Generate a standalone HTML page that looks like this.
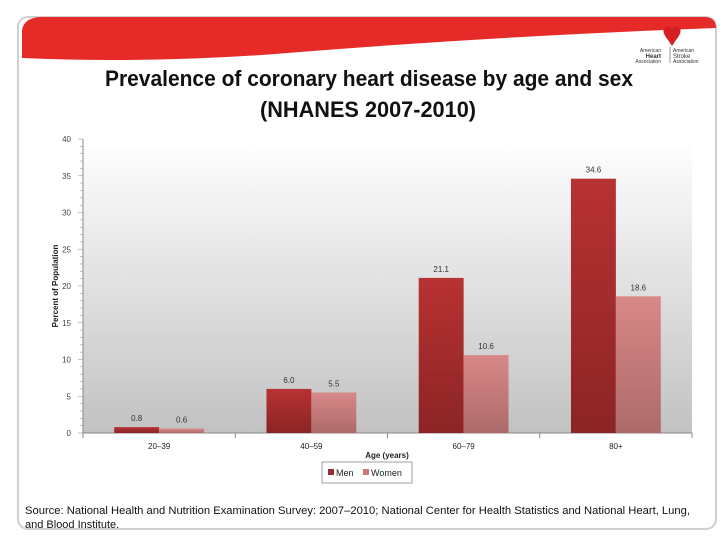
<!DOCTYPE html>
<html><head><meta charset="utf-8"><style>
body{margin:0;width:720px;height:540px;background:#fff;overflow:hidden;font-family:"Liberation Sans",sans-serif;}
svg{display:block}
</style></head><body>
<svg width="720" height="540" viewBox="0 0 720 540">
<defs>
<linearGradient id="bg" x1="0" y1="0" x2="0" y2="1"><stop offset="0" stop-color="#ffffff"/><stop offset="1" stop-color="#c2c2c2"/></linearGradient>
<linearGradient id="gm" x1="0" y1="0" x2="0" y2="1"><stop offset="0" stop-color="#b83232"/><stop offset="1" stop-color="#8c2424"/></linearGradient>
<linearGradient id="gw" x1="0" y1="0" x2="0" y2="1"><stop offset="0" stop-color="#d98888"/><stop offset="1" stop-color="#ad6a6a"/></linearGradient>
</defs>
<rect x="18" y="17" width="698" height="512" rx="10" fill="#fff" stroke="#d0d0d0" stroke-width="2"/>
<path d="M22,30 Q24,18 40,17 L706,17 Q716,18 716,28 Q500,36 300,52 Q160,64 22,58 Z" fill="#e52a27"/>
<g>
<path d="M668,40 Q660,30 666,27 Q670,26 672,30 Q674,26 678,27 Q684,30 676,40 L672,46 Z" fill="#d42020"/>
<text x="661" y="52" font-size="5" text-anchor="end" fill="#333">American</text>
<text x="661" y="58" font-size="6" font-weight="bold" text-anchor="end" fill="#333">Heart</text>
<text x="661" y="63" font-size="5" text-anchor="end" fill="#333">Association</text>
<line x1="670" y1="47" x2="670" y2="63" stroke="#555" stroke-width="0.6"/>
<text x="673" y="52" font-size="5" fill="#333">American</text>
<text x="673" y="58" font-size="6" fill="#333">Stroke</text>
<text x="673" y="63" font-size="5" fill="#333">Association</text>
</g>
<text x="105" y="86" font-size="22" font-weight="bold" fill="#111" textLength="528" lengthAdjust="spacingAndGlyphs">Prevalence of coronary heart disease by age and sex</text>
<text x="260" y="117" font-size="22" font-weight="bold" fill="#111" textLength="216" lengthAdjust="spacingAndGlyphs">(NHANES 2007-2010)</text>
<rect x="83" y="139" width="609" height="294" fill="url(#bg)"/>
<g id="chart"></g>
<text transform="translate(58,286) rotate(-90)" font-size="8" font-weight="bold" text-anchor="middle" fill="#222">Percent of Population</text>
<text x="387" y="458" font-size="8" font-weight="bold" text-anchor="middle" fill="#222">Age (years)</text>
<g>
<rect x="322" y="462" width="90" height="21" fill="#fff" stroke="#888" stroke-width="0.8"/>
<rect x="328" y="469" width="6" height="6" fill="#a02828"/>
<text x="336" y="476" font-size="9" fill="#222">Men</text>
<rect x="363" y="469" width="6" height="6" fill="#c87878"/>
<text x="371" y="476" font-size="9" fill="#222">Women</text>
</g>
<text x="25" y="514" font-size="11" fill="#111" textLength="665" lengthAdjust="spacingAndGlyphs">Source: National Health and Nutrition Examination Survey: 2007–2010; National Center for Health Statistics and National Heart, Lung,</text>
<text x="25" y="528" font-size="11" fill="#111">and Blood Institute.</text>
</svg>
<script>
const categories=["20–39","40–59","60–79","80+"];
const menValues=[0.8,6.0,21.1,34.6];
const womenValues=[0.6,5.5,10.6,18.6];
const menLabels=["0.8","6.0","21.1","34.6"];
const womenLabels=["0.6","5.5","10.6","18.6"];
const yTicks=[0,5,10,15,20,25,30,35,40];
const NS="http://www.w3.org/2000/svg";
const g=document.getElementById('chart');
const X0=83,X1=692,Y0=433,Y1=139,YMAX=40;
const bw=(X1-X0)/categories.length;
function y(v){return Y0-(v/YMAX)*(Y0-Y1);}
function mk(t,a,txt){const e=document.createElementNS(NS,t);for(const k in a)e.setAttribute(k,a[k]);if(txt!=null)e.textContent=txt;g.appendChild(e);return e;}
let e=mk('line',{x1:X0,y1:Y1,x2:X0,y2:Y0,stroke:'#888'});


e=mk('line',{x1:X0,y1:Y0,x2:X1,y2:Y0,stroke:'#888'});


for(let v=0;v<=YMAX;v++){mk('line',{x1:X0-(v%5==0?5:3),y1:y(v),x2:X0,y2:y(v),stroke:'#999','stroke-width':0.6});}
yTicks.forEach(v=>{const t=mk('text',{x:X0-12,y:y(v)+3,'font-size':8,'text-anchor':'end',fill:'#444'},String(v));

});
for(let i=0;i<=categories.length;i++){mk('line',{x1:X0+i*bw,y1:Y0,x2:X0+i*bw,y2:Y0+5,stroke:'#888'});}
const barW=bw*0.295;
categories.forEach((c,i)=>{
 const cx=X0+bw*(i+0.5);
 const m=mk('rect',{x:cx-barW,y:y(menValues[i]),width:barW,height:Y0-y(menValues[i]),fill:'url(#gm)'});
 
 
 const w=mk('rect',{x:cx,y:y(womenValues[i]),width:barW,height:Y0-y(womenValues[i]),fill:'url(#gw)'});
 
 
 const ml=mk('text',{x:cx-barW/2,y:y(menValues[i])-6,'font-size':8,'text-anchor':'middle',fill:'#333'},menLabels[i]);
 
 
 const wl=mk('text',{x:cx+barW/2,y:y(womenValues[i])-6,'font-size':8,'text-anchor':'middle',fill:'#333'},womenLabels[i]);
 
 
 const cl=mk('text',{x:cx,y:Y0+16,'font-size':8,'text-anchor':'middle',fill:'#222'},c);
 
 
});
</script>
</body></html>
